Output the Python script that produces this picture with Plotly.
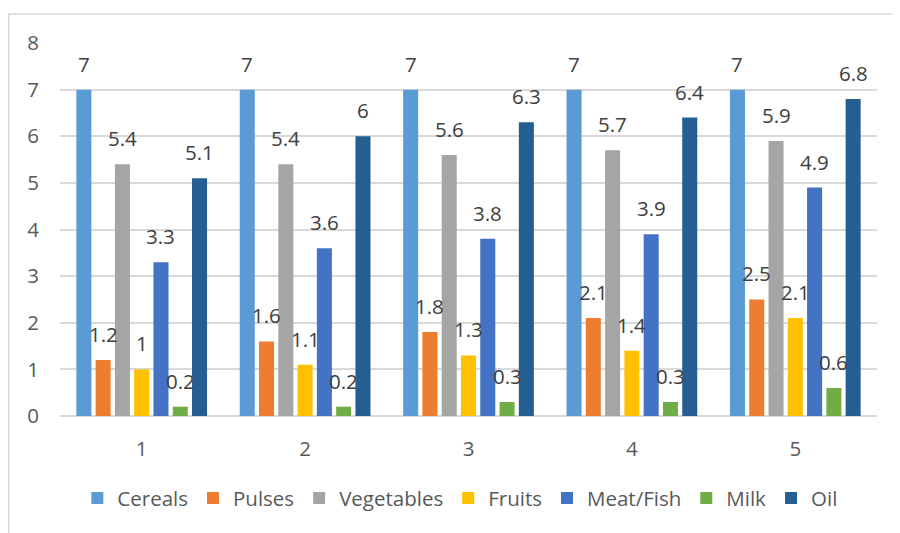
import plotly.graph_objects as go

groups = [1, 2, 3, 4, 5]
series_names = ["Cereals", "Pulses", "Vegetables", "Fruits", "Meat/Fish", "Milk", "Oil"]
cereals = [7, 7, 7, 7, 7]
pulses = [1.2, 1.6, 1.8, 2.1, 2.5]
vegetables = [5.4, 5.4, 5.6, 5.7, 5.9]
fruits = [1, 1.1, 1.3, 1.4, 2.1]
meat_fish = [3.3, 3.6, 3.8, 3.9, 4.9]
milk = [0.2, 0.2, 0.3, 0.3, 0.6]
oil = [5.1, 6, 6.3, 6.4, 6.8]
y_ticks = [0, 1, 2, 3, 4, 5, 6, 7, 8]

colors = ["#5B9BD5", "#ED7D31", "#A5A5A5", "#FFC000", "#4472C4", "#70AD47", "#255E91"]
values = [cereals, pulses, vegetables, fruits, meat_fish, milk, oil]

FONT = "Open Sans"
FS = 20.5
# page renders with an 8px body offset; compensate in margins
OX, OY = 8, 7
W, H = 900, 533
L, R, T, B = 60 - OX, 23 + OX, 42 - OY, 118 + OY
pw = W - L - R
ph = H - T - B

pitch = 0.118
bw = 0.092
fig = go.Figure()
annotations = []
for i, (name, vals, col) in enumerate(zip(series_names, values, colors)):
    off = (i - 3) * pitch - bw / 2
    fig.add_trace(go.Bar(
        x=groups, y=vals, name=name, marker=dict(color=col, line=dict(width=0)),
        offset=off, width=bw,
    ))
    for g, v in zip(groups, vals):
        annotations.append(dict(
            x=g + off + bw / 2, y=v, xref="x", yref="y", text=f"{v:g}",
            showarrow=False, yshift=26,
            font=dict(family=FONT, size=FS, color="#404040"),
        ))

top_y = (H - B - (13 - OY)) / ph
left_x = ((8 - OX) - L) / pw
shapes = [
    dict(type="line", xref="paper", yref="paper",
         x0=left_x, x1=(W + 5 - L) / pw, y0=top_y, y1=top_y,
         line=dict(color="#d9d9d9", width=1.5)),
    dict(type="line", xref="paper", yref="paper",
         x0=left_x + 0.001, x1=left_x + 0.001, y0=top_y, y1=(H - B - 540) / ph,
         line=dict(color="#d9d9d9", width=1.5)),
]

fig.update_layout(
    width=W, height=H,
    margin=dict(l=L, r=R, t=T, b=B),
    paper_bgcolor="white", plot_bgcolor="white",
    barmode="overlay",
    annotations=annotations,
    shapes=shapes,
    font=dict(family=FONT, size=FS, color="#595959"),
    legend=dict(orientation="h", x=0.49, xanchor="center", y=-0.22, yanchor="middle",
                font=dict(family=FONT, size=FS, color="#595959"),
                itemsizing="constant", traceorder="normal"),
    xaxis=dict(range=[0.5, 5.5], tickvals=groups, ticktext=[str(g) for g in groups],
               showgrid=False, zeroline=False, showline=False, ticks="",
               ticklabelstandoff=18, tickfont=dict(size=FS, color="#595959")),
    yaxis=dict(range=[0, 8], tickvals=y_ticks, showgrid=True, gridcolor="#d9d9d9",
               gridwidth=1.5, zeroline=True, zerolinecolor="#d9d9d9", zerolinewidth=1.5,
               ticks="", ticklabelstandoff=20, tickfont=dict(size=FS, color="#595959")),
)

fig.write_html("out.html")
